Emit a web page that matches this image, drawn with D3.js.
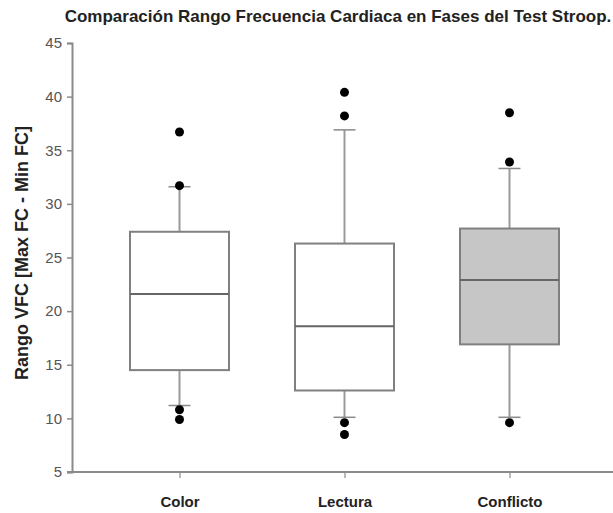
<!DOCTYPE html>
<html>
<head>
<meta charset="utf-8">
<script src="https://cdn.jsdelivr.net/npm/d3@7"></script>
<style>
  body { margin: 0; background: #fff; }
  text { font-family: "Liberation Sans", Arial, sans-serif; }
</style>
</head>
<body>
<div id="vis"></div>
<script>
// Datos
const categorias = ["Color", "Lectura", "Conflicto"];
const q1 = [14.5, 12.6, 16.9];
const medianas = [21.6, 18.6, 22.9];
const q3 = [27.4, 26.3, 27.7];
const bigoteBajo = [11.2, 10.1, 10.1];
const bigoteAlto = [31.6, 36.9, 33.3];
const atipicos = [
  [36.7, 31.7, 10.8, 9.9],
  [40.4, 38.2, 9.6, 8.5],
  [38.5, 33.9, 9.6]
];
const rellenos = ["#ffffff", "#ffffff", "#c6c6c6"];
const yTicks = [5, 10, 15, 20, 25, 30, 35, 40, 45];

// Constantes
const WIDTH = 613;
const HEIGHT = 513;
const margin = { top: 43, right: 0, bottom: 41, left: 72 };

const svg = d3.select("#vis")
  .append("svg")
  .attr("width", WIDTH)
  .attr("height", HEIGHT);

// Escalas
const y = d3.scaleLinear()
  .domain([5, 45])
  .range([HEIGHT - margin.bottom, margin.top]);

const x = d3.scalePoint()
  .domain(categorias)
  .range([179.5, 509.5]);

const boxWidth = 99;
const capWidth = 22;

const datos = categorias.map((c, i) => ({
  cat: c, q1: q1[i], med: medianas[i], q3: q3[i],
  lo: bigoteBajo[i], hi: bigoteAlto[i], out: atipicos[i], fill: rellenos[i]
}));

// Ejes
const ejeY = svg.append("g")
  .attr("transform", `translate(${margin.left},0)`)
  .call(d3.axisLeft(y).tickValues(yTicks).tickSizeOuter(0).tickSize(5).tickPadding(5));

ejeY.select(".domain").attr("stroke", "#8a8a8a").attr("stroke-width", 2);
ejeY.selectAll(".tick line").attr("stroke", "#8a8a8a").attr("stroke-width", 1.5);
ejeY.selectAll(".tick text")
  .attr("fill", "#555")
  .style("font-size", "15px");

svg.append("line")
  .attr("x1", margin.left - 5)
  .attr("x2", WIDTH)
  .attr("y1", y(5))
  .attr("y2", y(5))
  .attr("stroke", "#8a8a8a")
  .attr("stroke-width", 2);

const ejeX = svg.append("g")
  .attr("transform", `translate(0,${y(5)})`)
  .call(d3.axisBottom(x).tickSizeOuter(0).tickSize(6).tickPadding(18));

ejeX.select(".domain").remove();
ejeX.selectAll(".tick line").attr("stroke", "#8a8a8a").attr("stroke-width", 1.2);
ejeX.selectAll(".tick text")
  .attr("fill", "#222")
  .style("font-size", "15px")
  .style("font-weight", "bold");

// Cajas
const cajas = svg.append("g")
  .selectAll("g")
  .data(datos)
  .join("g");

// Bigotes
cajas.append("line")
  .attr("x1", d => x(d.cat))
  .attr("x2", d => x(d.cat))
  .attr("y1", d => y(d.hi))
  .attr("y2", d => y(d.q3))
  .attr("stroke", "#9a9a9a")
  .attr("stroke-width", 2);

cajas.append("line")
  .attr("x1", d => x(d.cat))
  .attr("x2", d => x(d.cat))
  .attr("y1", d => y(d.q1))
  .attr("y2", d => y(d.lo))
  .attr("stroke", "#9a9a9a")
  .attr("stroke-width", 2);

cajas.selectAll(".cap")
  .data(d => [d.hi, d.lo].map(v => ({ cat: d.cat, v })))
  .join("line")
  .attr("class", "cap")
  .attr("x1", d => x(d.cat) - capWidth / 2)
  .attr("x2", d => x(d.cat) + capWidth / 2)
  .attr("y1", d => y(d.v))
  .attr("y2", d => y(d.v))
  .attr("stroke", "#8a8a8a")
  .attr("stroke-width", 1.5);

cajas.append("rect")
  .attr("x", d => x(d.cat) - boxWidth / 2)
  .attr("width", boxWidth)
  .attr("y", d => y(d.q3))
  .attr("height", d => y(d.q1) - y(d.q3))
  .attr("fill", d => d.fill)
  .attr("stroke", "#808080")
  .attr("stroke-width", 2);

cajas.append("line")
  .attr("x1", d => x(d.cat) - boxWidth / 2)
  .attr("x2", d => x(d.cat) + boxWidth / 2)
  .attr("y1", d => y(d.med))
  .attr("y2", d => y(d.med))
  .attr("stroke", "#666")
  .attr("stroke-width", 2);

// Atípicos
cajas.selectAll("circle")
  .data(d => d.out.map(v => ({ cat: d.cat, v })))
  .join("circle")
  .attr("cx", d => x(d.cat))
  .attr("cy", d => y(d.v))
  .attr("r", 4.5)
  .attr("fill", "#000");

// Título
svg.append("text")
  .attr("x", 338)
  .attr("y", 22)
  .attr("text-anchor", "middle")
  .style("font-size", "17px")
  .style("font-weight", "bold")
  .attr("fill", "#222")
  .text("Comparación Rango Frecuencia Cardiaca en Fases del Test Stroop.");

// Etiqueta eje Y
svg.append("text")
  .attr("transform", `translate(28,${253}) rotate(-90)`)
  .attr("text-anchor", "middle")
  .style("font-size", "18px")
  .style("font-weight", "bold")
  .attr("fill", "#222")
  .text("Rango VFC [Max FC - Min FC]");
</script>
</body>
</html>
